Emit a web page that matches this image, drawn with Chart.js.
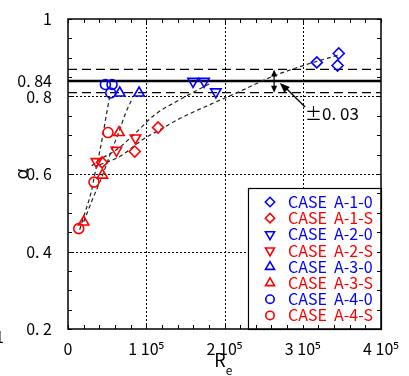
<!DOCTYPE html>
<html><head><meta charset="utf-8">
<script src="https://cdn.jsdelivr.net/npm/chart.js@4/dist/chart.umd.min.js"></script>
<style>html,body{margin:0;padding:0;background:#fff}canvas{display:block}</style>
</head><body>
<canvas id="c" width="409" height="376"></canvas>
<script>
const FONT = '"Noto Sans CJK JP", "Noto Sans", sans-serif';
const BLUE = '#0000ff', RED = '#ff0000';

// ---- measured data (Re, alpha) ----
const reA10 = [318000, 346000, 344500];
const alA10 = [0.888, 0.911, 0.880];
const reA1S = [115100, 85300, 43500];
const alA1S = [0.720, 0.658, 0.630];
const reA20 = [159800, 173900, 188900];
const alA20 = [0.839, 0.839, 0.812];
const reA2S = [86200, 61900, 36300];
const alA2S = [0.693, 0.661, 0.632];
const reA30 = [66100, 90800];
const alA30 = [0.809, 0.809];
const reA3S = [65200, 44000, 20000];
const alA3S = [0.707, 0.597, 0.476];
const reA40 = [47800, 56300, 54600];
const alA40 = [0.831, 0.831, 0.809];
const reA4S = [51100, 33200, 13700];
const alA4S = [0.707, 0.579, 0.459];

// ---- fitted trend curves ----
const fitA1Re = [40500, 66100, 95500, 117300, 142800, 181200, 219600, 257900, 296300, 347400];
const fitA1Al = [0.624, 0.645, 0.689, 0.714, 0.743, 0.779, 0.813, 0.849, 0.877, 0.908];
const fitA2Re = [30300, 40500, 62300, 85300, 110900, 140300, 162000, 183800];
const fitA2Al = [0.621, 0.637, 0.663, 0.704, 0.753, 0.789, 0.813, 0.836];
const fitA3Re = [20100, 31600, 44400, 54600, 64800, 73800, 82700];
const fitA3Al = [0.477, 0.536, 0.598, 0.655, 0.707, 0.758, 0.797];
const fitA4Re = [14960, 20100, 30300, 34100, 40500, 45700, 49500, 53300];
const fitA4Al = [0.456, 0.490, 0.559, 0.598, 0.658, 0.714, 0.758, 0.800];

// ---- reference level ----
const refAlpha = 0.84;
const tolerance = 0.03;
const arrowRe = 263400;
const noteText = '±0. 03';
const noteRe = 303000, noteAl = 0.755;
const notePointRe = 270700, notePointAl = 0.835;

// ---- axes ----
const xMin = 0, xMax = 400000, xMinor = 20000;
const xTickValues = [0, 100000, 200000, 300000, 400000];
const xTickLabels = ['0', '1 10⁵', '2 10⁵', '3 10⁵', '4 10⁵'];
const yMin = 0.2, yMax = 1, yMinor = 0.05;
const yTickValues = [0.2, 0.4, 0.6, 0.8, 0.84, 1];
const yTickLabels = ['0. 2', '0. 4', '0. 6', '0. 8', '0. 84', '1'];
const xGridValues = [100000, 200000, 300000];
const yGridValues = [0.4, 0.6, 0.8];
const xTitle = 'R', xTitleSub = 'e';
const yTitle = 'α';

const legendLabels = ['CASE  A-1-0', 'CASE  A-1-S', 'CASE  A-2-0', 'CASE  A-2-S',
                      'CASE  A-3-0', 'CASE  A-3-S', 'CASE  A-4-0', 'CASE  A-4-S'];

const series = [
  {x: reA10, y: alA10, color: BLUE, style: 'rectRot', rot: 0, r: 5.5},
  {x: reA1S, y: alA1S, color: RED, style: 'rectRot', rot: 0, r: 5.5},
  {x: reA20, y: alA20, color: BLUE, style: 'triangle', rot: 180, r: 6},
  {x: reA2S, y: alA2S, color: RED, style: 'triangle', rot: 180, r: 6},
  {x: reA30, y: alA30, color: BLUE, style: 'triangle', rot: 0, r: 6},
  {x: reA3S, y: alA3S, color: RED, style: 'triangle', rot: 0, r: 6},
  {x: reA40, y: alA40, color: BLUE, style: 'circle', rot: 0, r: 5},
  {x: reA4S, y: alA4S, color: RED, style: 'circle', rot: 0, r: 5},
];
const fits = [[fitA1Re, fitA1Al], [fitA2Re, fitA2Al], [fitA3Re, fitA3Al], [fitA4Re, fitA4Al]];

const zip = (xs, ys) => xs.map((v, i) => ({x: v, y: ys[i]}));
const near = (a, b) => Math.abs(a - b) < 1e-6;

const datasets = [];
series.forEach((s, i) => datasets.push({
  type: 'scatter', label: legendLabels[i], data: zip(s.x, s.y),
  pointStyle: s.style, rotation: s.rot, pointRadius: s.r,
  borderColor: s.color, backgroundColor: 'rgba(0,0,0,0)',
  pointBorderWidth: 1.6, showLine: false, order: 0
}));
fits.forEach(f => datasets.push({
  type: 'line', data: zip(f[0], f[1]), borderColor: '#222', borderWidth: 1.2,
  borderDash: [4, 3], pointRadius: 0, fill: false, cubicInterpolationMode: 'monotone', order: 1
}));
datasets.push({type: 'line', data: zip([xMin, xMax], [refAlpha, refAlpha]), borderColor: '#000',
  borderWidth: 2.6, pointRadius: 0, fill: false, order: 2});
[refAlpha + tolerance, refAlpha - tolerance].forEach(v => datasets.push({
  type: 'line', data: zip([xMin, xMax], [v, v]), borderColor: '#000', borderWidth: 1.2,
  borderDash: [9, 5], pointRadius: 0, fill: false, order: 2}));

function shape(ctx, style, rot, r, x, y) {
  let rad = rot * Math.PI / 180;
  ctx.beginPath();
  if (style === 'circle') { ctx.arc(x, y, r, 0, Math.PI * 2); }
  else if (style === 'rectRot') {
    ctx.moveTo(x - r, y); ctx.lineTo(x, y - r); ctx.lineTo(x + r, y); ctx.lineTo(x, y + r); ctx.closePath();
  } else {
    for (let k = 0; k < 3; k++) {
      const px = x + Math.sin(rad) * r, py = y - Math.cos(rad) * r;
      if (k === 0) ctx.moveTo(px, py); else ctx.lineTo(px, py);
      rad += 2 * Math.PI / 3;
    }
    ctx.closePath();
  }
  ctx.stroke();
}
function arrowHead(ctx, x1, y1, x2, y2, len, half) {
  const a = Math.atan2(y2 - y1, x2 - x1);
  ctx.beginPath();
  ctx.moveTo(x2, y2);
  ctx.lineTo(x2 - len * Math.cos(a) + half * Math.sin(a), y2 - len * Math.sin(a) - half * Math.cos(a));
  ctx.lineTo(x2 - len * Math.cos(a) - half * Math.sin(a), y2 - len * Math.sin(a) + half * Math.cos(a));
  ctx.closePath(); ctx.fill();
}

const decor = {
  id: 'decor',
  beforeDatasetsDraw(chart) {
    const {ctx, chartArea: a, scales: {x, y}} = chart;
    ctx.save();
    ctx.strokeStyle = '#000'; ctx.lineWidth = 1; ctx.setLineDash([2, 2]);
    xGridValues.forEach(v => { const p = Math.round(x.getPixelForValue(v)) + 0.5;
      ctx.beginPath(); ctx.moveTo(p, a.top); ctx.lineTo(p, a.bottom); ctx.stroke(); });
    yGridValues.forEach(v => { const p = Math.round(y.getPixelForValue(v)) + 0.5;
      ctx.beginPath(); ctx.moveTo(a.left, p); ctx.lineTo(a.right, p); ctx.stroke(); });
    ctx.restore();
  },
  afterDatasetsDraw(chart) {
    const {ctx, chartArea: a, scales: {x, y}} = chart;
    ctx.save();
    // legend box
    const lx = a.left + 180, ly = a.top + 169;
    ctx.fillStyle = '#fff'; ctx.fillRect(lx, ly, a.right - lx, a.bottom - ly);
    ctx.strokeStyle = '#000'; ctx.lineWidth = 1.2; ctx.setLineDash([]);
    ctx.strokeRect(lx + 0.5, ly + 0.5, a.right - lx, a.bottom - ly);
    ctx.font = '16px ' + FONT; ctx.textBaseline = 'middle'; ctx.textAlign = 'left';
    series.forEach((s, i) => {
      const yy = ly + 14 + i * 16.2;
      ctx.strokeStyle = s.color; ctx.lineWidth = 1.6;
      shape(ctx, s.style, s.rot, s.r - 0.8, lx + 22, yy);
      ctx.fillStyle = s.color; ctx.fillText(legendLabels[i], lx + 40, yy);
    });
    // frame
    ctx.strokeStyle = '#000'; ctx.lineWidth = 1.5;
    ctx.strokeRect(a.left, a.top, a.right - a.left, a.bottom - a.top);
    // inward ticks
    ctx.lineWidth = 1;
    const tl = 4;
    for (let v = xMin; v <= xMax + 1; v += xMinor) {
      const p = Math.round(x.getPixelForValue(v)) + 0.5;
      ctx.beginPath(); ctx.moveTo(p, a.bottom); ctx.lineTo(p, a.bottom - tl);
      ctx.moveTo(p, a.top); ctx.lineTo(p, a.top + tl); ctx.stroke();
    }
    for (let k = 0; k <= Math.round((yMax - yMin) / yMinor); k++) {
      const v = yMin + k * yMinor;
      const p = Math.round(y.getPixelForValue(v)) + 0.5;
      ctx.beginPath(); ctx.moveTo(a.left, p); ctx.lineTo(a.left + tl, p);
      ctx.moveTo(a.right, p); ctx.lineTo(a.right - tl, p); ctx.stroke();
    }
    // tolerance double arrow
    const ax = x.getPixelForValue(arrowRe);
    const yTop = y.getPixelForValue(refAlpha + tolerance), yBot = y.getPixelForValue(refAlpha - tolerance);
    ctx.fillStyle = '#000'; ctx.strokeStyle = '#000'; ctx.lineWidth = 1.2;
    ctx.beginPath(); ctx.moveTo(ax, yTop + 4); ctx.lineTo(ax, yBot - 4); ctx.stroke();
    arrowHead(ctx, ax, yTop + 10, ax, yTop, 7, 3);
    arrowHead(ctx, ax, yBot - 10, ax, yBot, 7, 3);
    // pointer
    const tx = x.getPixelForValue(noteRe), ty = y.getPixelForValue(noteAl) - 7;
    const hx = x.getPixelForValue(notePointRe), hy = y.getPixelForValue(notePointAl);
    ctx.lineWidth = 1.3;
    ctx.beginPath(); ctx.moveTo(tx, ty); ctx.lineTo(hx + 5, hy + 4); ctx.stroke();
    arrowHead(ctx, tx, ty, hx, hy, 10, 4);
    ctx.font = '17px ' + FONT; ctx.textBaseline = 'middle'; ctx.textAlign = 'left';
    ctx.fillText(noteText, tx, y.getPixelForValue(noteAl));
    // axis titles
    ctx.font = '18px ' + FONT; ctx.textAlign = 'center'; ctx.textBaseline = 'alphabetic';
    ctx.fillText(xTitle, 220, 367);
    ctx.font = '12px ' + FONT; ctx.fillText(xTitleSub, 229, 375);
    ctx.save(); ctx.translate(21, 174); ctx.rotate(-Math.PI / 2);
    ctx.font = '18px ' + FONT; ctx.textBaseline = 'middle'; ctx.fillText(yTitle, 0, 0); ctx.restore();
    // clipped neighbour label fragment at far left
    ctx.font = '16px ' + FONT; ctx.textAlign = 'right'; ctx.textBaseline = 'middle';
    ctx.fillText('1', 4, 337);
    ctx.restore();
  }
};

new Chart(document.getElementById('c'), {
  type: 'scatter',
  data: {datasets},
  options: {
    responsive: false, animation: false, devicePixelRatio: 1,
    layout: {padding: {left: 0, top: 19, right: 28, bottom: 0}},
    plugins: {legend: {display: false}, tooltip: {enabled: false}},
    scales: {
      x: {
        type: 'linear', min: xMin, max: xMax,
        afterBuildTicks: s => { s.ticks = xTickValues.map(v => ({value: v})); },
        afterFit: s => { s.height = 47; },
        grid: {display: false}, border: {display: false},
        ticks: {autoSkip: false, maxRotation: 0, padding: 2, color: '#000',
          font: {family: FONT, size: 16},
          callback: v => { const i = xTickValues.findIndex(t => near(t, v)); return i >= 0 ? xTickLabels[i] : ''; }}
      },
      y: {
        type: 'linear', min: yMin, max: yMax,
        afterBuildTicks: s => { s.ticks = yTickValues.map(v => ({value: v})); },
        afterFit: s => { s.width = 68; },
        grid: {display: false}, border: {display: false},
        ticks: {autoSkip: false, padding: 8, color: '#000',
          font: {family: FONT, size: 16},
          callback: v => { const i = yTickValues.findIndex(t => near(t, v)); return i >= 0 ? yTickLabels[i] : ''; }}
      }
    }
  },
  plugins: [decor]
});
</script>
</body></html>
